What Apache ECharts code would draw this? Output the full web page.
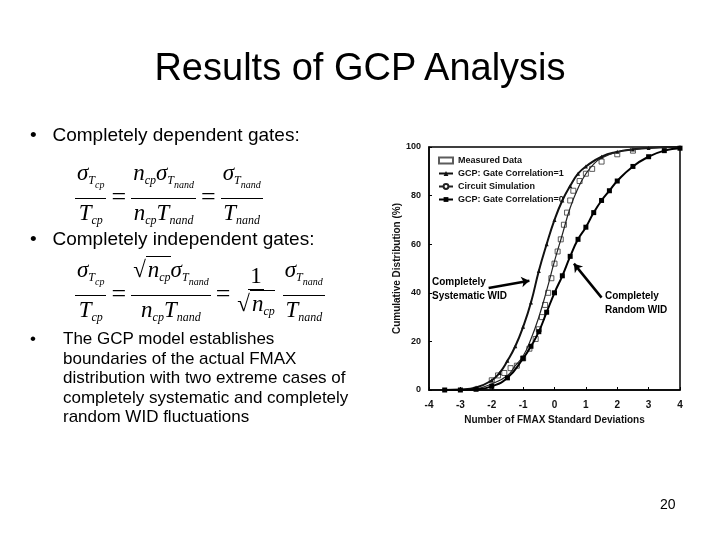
<!DOCTYPE html>
<html>
<head>
<meta charset="utf-8">
<script src="https://cdn.jsdelivr.net/npm/echarts@6/dist/echarts.min.js"></script>
<style>
  body { margin: 0; background: #fff; }
  #page { position: relative; width: 720px; height: 540px; overflow: hidden; font-family: "Liberation Sans", Arial, sans-serif; }
  #chart { position: absolute; left: 0; top: 0; width: 720px; height: 540px; }
  .txt { position: absolute; color: #000; }
  .eq { position: absolute; font-family: "Liberation Serif", "Times New Roman", serif; font-style: italic; font-size: 23px; display: flex; align-items: center; }
  .fr { display: inline-flex; flex-direction: column; align-items: center; margin: 0 3px; }
  .fr .n { border-bottom: 1.2px solid #000; padding: 0 2px; line-height: 27px; }
  .fr .d { line-height: 27px; padding: 0 2px; }
  .eq .op { font-style: normal; font-size: 26px; margin: 0 2px; }
  sub { font-size: 12px; vertical-align: -4px; }
  sub sub { font-size: 10px; }
  .sq { border-top: 1.2px solid #000; padding-left: 2px; }
</style>
</head>
<body>
<div id="page">
  <div id="chart"></div>
  <div class="txt" style="left:0;width:720px;top:46px;text-align:center;font-size:38px;">Results of GCP Analysis</div>
  <div class="txt" style="left:30px;top:124px;font-size:19px;">•&nbsp;&nbsp;&nbsp;Completely dependent gates:</div>
  <div class="eq" style="left:72px;top:159px;">
    <span class="fr"><span class="n">σ<sub>T<sub>cp</sub></sub></span><span class="d">T<sub>cp</sub></span></span>
    <span class="op">=</span>
    <span class="fr"><span class="n">n<sub>cp</sub>σ<sub>T<sub>nand</sub></sub></span><span class="d">n<sub>cp</sub>T<sub>nand</sub></span></span>
    <span class="op">=</span>
    <span class="fr"><span class="n">σ<sub>T<sub>nand</sub></sub></span><span class="d">T<sub>nand</sub></span></span>
  </div>
  <div class="txt" style="left:30px;top:228px;font-size:19px;">•&nbsp;&nbsp;&nbsp;Completely independent gates:</div>
  <div class="eq" style="left:72px;top:256px;">
    <span class="fr"><span class="n">σ<sub>T<sub>cp</sub></sub></span><span class="d">T<sub>cp</sub></span></span>
    <span class="op">=</span>
    <span class="fr"><span class="n">√<span class="sq">n<sub>cp</sub></span>σ<sub>T<sub>nand</sub></sub></span><span class="d">n<sub>cp</sub>T<sub>nand</sub></span></span>
    <span class="op">=</span>
    <span class="fr"><span class="n" style="font-style:normal">1</span><span class="d">√<span class="sq">n<sub>cp</sub></span></span></span>
    <span class="fr"><span class="n">σ<sub>T<sub>nand</sub></sub></span><span class="d">T<sub>nand</sub></span></span>
  </div>
  <div class="txt" style="left:30px;top:329px;font-size:17px;line-height:19.5px;width:330px;">
    <div style="position:absolute;left:0;">•</div>
    <div style="margin-left:33px;">The GCP model establishes boundaries of the actual FMAX distribution with two extreme cases of completely systematic and completely random WID fluctuations</div>
  </div>
  <div class="txt" style="left:660px;top:496px;font-size:14px;">20</div>
</div>
<script>
// readings: x in FMAX standard deviations, y in %
const sysX = [-3.5, -3, -2.5, -2, -1.75, -1.5, -1.25, -1, -0.75, -0.5, -0.25, 0, 0.25, 0.5, 0.75, 1, 1.5, 2, 2.5, 3, 4];
const sysY = [0, 0.2, 1, 4, 7, 12, 18, 26, 36, 49, 60, 70, 78, 84, 89, 92, 96, 98, 99, 99.6, 100];
const simX = [-3.5, -3, -2.5, -2, -1.5, -1.25, -1, -0.75, -0.5, -0.25, 0, 0.25, 0.5, 0.75, 1, 1.25, 1.5, 2, 2.5, 3, 4];
const simY = [0, 0, 0.5, 2.5, 6, 10, 14, 21, 30, 41, 53, 64, 75, 83, 89, 93, 95.5, 98, 99, 99.6, 100];
const measX = [-2, -1.8, -1.6, -1.4, -1.2, -1, -0.8, -0.6, -0.5, -0.4, -0.3, -0.2, -0.1, 0, 0.1, 0.2, 0.3, 0.4, 0.5, 0.6, 0.8, 1, 1.2, 1.5, 2, 2.5];
const measY = [4, 6, 7, 9, 10, 13, 17, 21, 25, 30, 35, 40, 46, 52, 57, 62, 68, 73, 78, 82, 86, 89, 91, 94, 97, 98.5];
const rndX = [-3.5, -3, -2.5, -2, -1.5, -1, -0.75, -0.5, -0.25, 0, 0.25, 0.5, 0.75, 1, 1.25, 1.5, 1.75, 2, 2.5, 3, 3.5, 4];
const rndY = [0, 0, 0.3, 1.5, 5, 13, 18, 24, 32, 40, 47, 55, 62, 67, 73, 78, 82, 86, 92, 96, 98.5, 99.5];
const xTicks = [-4, -3, -2, -1, 0, 1, 2, 3, 4];
const yTicks = [0, 20, 40, 60, 80, 100];

const pair = (xs, ys) => xs.map((x, i) => [x, ys[i]]);
const lab = { fontFamily: 'Liberation Sans Narrow, Arial', fontWeight: 'bold', fontSize: 10, color: '#111' };

const chart = echarts.init(document.getElementById('chart'));
chart.setOption({
  animation: false,
  grid: { left: 429, right: 40, top: 147, bottom: 150, show: true, borderColor: '#000', borderWidth: 1.5 },
  legend: {
    orient: 'vertical', left: 433, top: 151, itemGap: 4, itemWidth: 14, itemHeight: 6,
    textStyle: Object.assign({}, lab, { fontSize: 9 }),
    data: ['Measured Data', 'GCP: Gate Correlation=1', 'Circuit Simulation', 'GCP: Gate Correlation=0']
  },
  xAxis: {
    type: 'value', min: -4, max: 4, interval: 1,
    name: 'Number of FMAX Standard Deviations', nameLocation: 'middle', nameGap: 25,
    nameTextStyle: lab,
    axisLine: { onZero: false, lineStyle: { color: '#000', width: 1.5 } },
    axisTick: { inside: true, length: 3 },
    axisLabel: Object.assign({ margin: 10, formatter: v => xTicks.includes(v) ? String(v) : '' }, lab),
    splitLine: { show: false }
  },
  yAxis: {
    type: 'value', min: 0, max: 100, interval: 20,
    name: 'Cumulative Distribution (%)', nameLocation: 'middle', nameGap: 24,
    nameTextStyle: Object.assign({}, lab, { fontSize: 10 }),
    axisLine: { onZero: false, lineStyle: { color: '#000', width: 1.5 } },
    axisTick: { inside: true, length: 3 },
    axisLabel: Object.assign({ margin: 8, formatter: v => yTicks.includes(v) ? String(v) : '' }, lab, { fontSize: 9 }),
    splitLine: { show: false }
  },
  series: [
    { name: 'Measured Data', type: 'scatter', data: pair(measX, measY), symbol: 'rect', symbolSize: 5,
      itemStyle: { color: '#fff', borderColor: '#333', borderWidth: 1 } },
    { name: 'GCP: Gate Correlation=1', type: 'line', smooth: true, data: pair(sysX, sysY),
      symbol: 'triangle', symbolSize: 4, showSymbol: true, lineStyle: { color: '#111', width: 2 }, itemStyle: { color: '#111' },
      markLine: { silent: true, symbol: ['none', 'arrow'], symbolSize: 8, lineStyle: { color: '#000', width: 2.5, type: 'solid' }, label: { show: false },
        data: [[{ coord: [-2.1, 42] }, { coord: [-0.8, 45] }]] } },
    { name: 'Circuit Simulation', type: 'line', smooth: true, data: pair(simX, simY),
      showSymbol: false, lineStyle: { color: '#222', width: 1.2 }, itemStyle: { color: '#222' } },
    { name: 'GCP: Gate Correlation=0', type: 'line', smooth: true, data: pair(rndX, rndY),
      symbol: 'rect', symbolSize: 5, lineStyle: { color: '#000', width: 2 }, itemStyle: { color: '#000' },
      markLine: { silent: true, symbol: ['none', 'arrow'], symbolSize: 8, lineStyle: { color: '#000', width: 2.5, type: 'solid' }, label: { show: false },
        data: [[{ coord: [1.5, 38] }, { coord: [0.62, 52] }]] } }
  ],
  graphic: [
    { type: 'text', left: 432, top: 275, style: Object.assign({ text: 'Completely\nSystematic WID', lineHeight: 14, align: 'center' }, lab) },
    { type: 'text', left: 605, top: 289, style: Object.assign({ text: 'Completely\nRandom WID', lineHeight: 14, align: 'center' }, lab) }
  ]
});
</script>
</body>
</html>
